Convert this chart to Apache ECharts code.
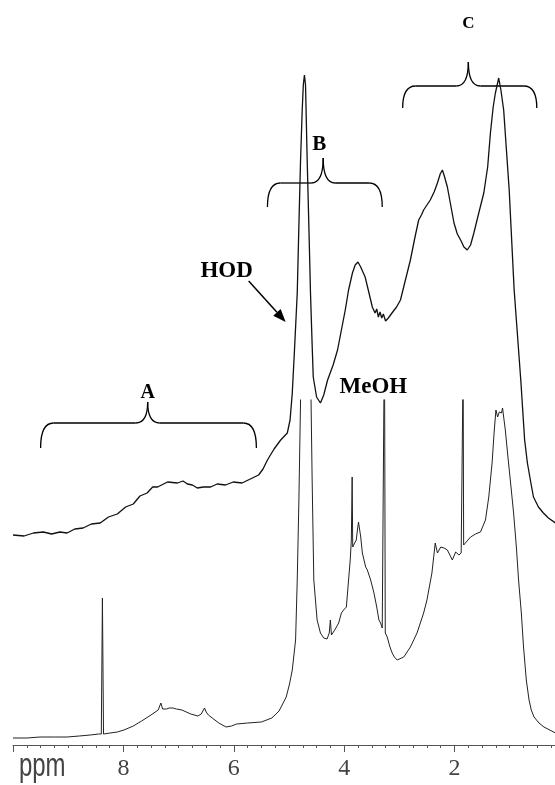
<!DOCTYPE html>
<html>
<head>
<meta charset="utf-8">
<script src="https://cdn.jsdelivr.net/npm/echarts@6/dist/echarts.min.js"></script>
<style>
  html, body { margin: 0; padding: 0; background: #fff; }
  #main { width: 555px; height: 785px; }
</style>
</head>
<body>
<div id="main"></div>
<script>
// Upper trace: chemical shift (ppm) and intensity (arbitrary units, offset trace)
const topPpm = [
  10.0, 9.8, 9.63, 9.45, 9.3, 9.15, 9.02, 8.88, 8.73, 8.58,
  8.42, 8.27, 8.11, 7.96, 7.82, 7.7, 7.57, 7.47, 7.38, 7.2,
  7.02, 6.92, 6.84, 6.75, 6.66, 6.55, 6.42, 6.30, 6.15, 6.01,
  5.85, 5.70, 5.55, 5.47, 5.39, 5.27, 5.15, 5.03, 4.98, 4.94,
  4.90, 4.85, 4.82, 4.79, 4.76, 4.74, 4.72, 4.70, 4.69, 4.67,
  4.64, 4.61, 4.58, 4.56, 4.50, 4.43, 4.37, 4.30, 4.20, 4.12,
  4.05, 3.98, 3.92, 3.85, 3.80, 3.75, 3.70, 3.62, 3.55, 3.49,
  3.44, 3.41, 3.38, 3.35, 3.32, 3.29, 3.25, 3.20, 3.12, 3.05,
  2.98, 2.89, 2.80, 2.72, 2.65, 2.60, 2.56, 2.50, 2.44, 2.37,
  2.31, 2.26, 2.22, 2.18, 2.13, 2.07, 2.01, 1.95, 1.89, 1.83,
  1.77, 1.71, 1.65, 1.57, 1.47, 1.40, 1.35, 1.30, 1.26, 1.20,
  1.16, 1.11, 1.01, 0.92, 0.80, 0.73, 0.68, 0.62, 0.57, 0.48,
  0.39, 0.30, 0.17
];
const topInt = [
  210, 209, 212, 213, 211, 213, 212, 216, 217, 221,
  222, 228, 231, 238, 241, 249, 252, 258, 258, 263,
  262, 264, 261, 260, 257, 258, 258, 261, 260, 263,
  262, 266, 270, 276, 285, 296, 305, 312, 325, 352,
  395, 452, 520, 585, 635, 660, 670, 660, 635, 585,
  520, 452, 400, 368, 348, 342, 350, 365, 380, 395,
  415, 435, 455, 472, 480, 483, 478, 468, 452, 438,
  432, 436, 428, 433, 427, 431, 424, 427, 433, 438,
  445, 465, 485, 507, 525, 530, 535, 540, 545, 553,
  562, 571, 575, 568, 558, 540, 522, 511, 505, 498,
  495, 500, 512, 530, 552, 578, 612, 638, 652, 667,
  655, 635, 555, 455, 365, 305, 282, 263, 248, 238,
  232, 227, 222
];

// Lower trace: chemical shift (ppm) and intensity (arbitrary units; tall peaks run off scale)
const lowerPpm = [
  10.0, 9.75, 9.51, 9.25, 9.02, 8.80, 8.60, 8.45, 8.40, 8.38,
  8.36, 8.24, 8.11, 7.99, 7.82, 7.67, 7.50, 7.37, 7.32, 7.29,
  7.22, 7.17, 7.10, 7.04, 6.94, 6.78, 6.65, 6.59, 6.53, 6.50,
  6.46, 6.39, 6.27, 6.14, 6.04, 5.95, 5.75, 5.50, 5.31, 5.18,
  5.05, 4.99, 4.94, 4.88, 4.85, 4.82, 4.79, 4.72, 4.60, 4.58,
  4.55, 4.49, 4.43, 4.37, 4.31, 4.27, 4.25, 4.23, 4.16, 4.10,
  4.05, 4.01, 3.96, 3.92, 3.89, 3.87, 3.855, 3.845, 3.81, 3.78,
  3.76, 3.74, 3.70, 3.67, 3.61, 3.58, 3.52, 3.46, 3.41, 3.37,
  3.34, 3.31, 3.285, 3.27, 3.255, 3.22, 3.17, 3.13, 3.09, 3.04,
  2.92, 2.80, 2.68, 2.56, 2.50, 2.41, 2.35, 2.31, 2.25, 2.19,
  2.13, 2.04, 1.98, 1.92, 1.88, 1.855, 1.845, 1.835, 1.80, 1.71,
  1.62, 1.53, 1.44, 1.38, 1.32, 1.28, 1.25, 1.22, 1.19, 1.15,
  1.13, 1.11, 1.08, 1.04, 0.99, 0.93, 0.88, 0.84, 0.79, 0.75,
  0.70, 0.65, 0.61, 0.56, 0.47, 0.38, 0.17
];
const lowerInt = [
  7, 7, 8, 8, 8, 9, 10, 11, 11, 147,
  11, 12, 13, 15, 19, 24, 30, 35, 42, 36,
  36, 37, 37, 36, 35, 31, 29, 31, 37, 33,
  30, 27, 22, 18, 19, 21, 22, 23, 27, 34,
  48, 61, 75, 105, 165, 245, 345, 700, 345, 265,
  165, 125, 112, 107, 106, 112, 125, 110, 116, 122,
  132, 135, 138, 165, 185, 205, 268, 198, 202, 205,
  215, 223, 208, 192, 178, 175, 165, 152, 138, 125,
  122, 117, 119, 420, 112, 108, 98, 92, 88, 85,
  88, 98, 112, 132, 145, 172, 202, 192, 198, 197,
  195, 185, 193, 190, 192, 190, 380, 200, 202, 208,
  211, 213, 225, 248, 282, 315, 335, 328, 333, 332,
  337, 328, 315, 292, 265, 232, 198, 165, 132, 98,
  65, 45, 35, 28, 22, 18, 12
];

// Axis ticks and labels
const majorTicks = [10, 8, 6, 4, 2];
const tickLabels = [8, 6, 4, 2];
const unitLabel = 'ppm';
const unitLabelPpm = 9.47;

// Region braces (ppm span, levels in the upper trace's intensity units)
const braceNames = ['A', 'B', 'C'];
const braceFrom = [9.50, 5.39, 2.94];
const braceTo = [5.59, 3.31, 0.51];
const braceMid = [7.56, 4.38, 1.75];
const braceBar = [322, 562, 659];
const braceEnd = [297, 538, 637];
const braceTip = [343, 587, 683];
const braceLabelPpm = [7.56, 4.45, 1.75];
const braceLabelInt = [352, 600, 721];
const braceFont = [20, 21, 17];

// Peak call-outs
const hodLabel = { text: 'HOD', ppm: 6.13, int: 474 };
const hodArrow = { fromPpm: 5.73, fromInt: 464, toPpm: 5.06, toInt: 423 };
const meohLabel = { text: 'MeOH', ppm: 3.47, int: 358 };

const X_MIN = 0.18, X_MAX = 10;
const minorTicks = [];
for (let v = 10; v > 0.2; v -= 0.25) minorTicks.push(+v.toFixed(2));

const chart = echarts.init(document.getElementById('main'), null, { renderer: 'canvas' });

const baseX = {
  type: 'value', inverse: true, min: X_MIN, max: X_MAX,
  splitLine: { show: false }
};

chart.setOption({
  animation: false,
  backgroundColor: '#fff',
  grid: [
    { left: 13, right: 0, top: 0, bottom: 40 },
    { left: 13, right: 0, top: 400, bottom: 40 }
  ],
  xAxis: [
    Object.assign({}, baseX, {
      gridIndex: 0,
      axisLine: { show: true, lineStyle: { color: '#555', width: 1 } },
      axisTick: { show: true, customValues: minorTicks, length: 3, lineStyle: { color: '#555', width: 1 } },
      axisLabel: { show: false }
    }),
    Object.assign({}, baseX, {
      gridIndex: 1,
      axisLine: { show: false },
      axisTick: { show: true, customValues: majorTicks, length: 7, lineStyle: { color: '#555', width: 1 } },
      axisLabel: {
        show: true, customValues: tickLabels, margin: 12,
        color: '#444', fontFamily: 'Liberation Sans Narrow', fontSize: 24,
        formatter: v => String(v)
      }
    })
  ],
  yAxis: [
    { type: 'value', gridIndex: 0, min: 0, max: 745, show: false },
    { type: 'value', gridIndex: 1, min: 0, max: 345, show: false }
  ],
  series: [
    {
      type: 'line', xAxisIndex: 0, yAxisIndex: 0, symbol: 'none', clip: true,
      data: topPpm.map((p, i) => [p, topInt[i]]),
      lineStyle: { color: '#111', width: 1.3 }
    },
    {
      type: 'line', xAxisIndex: 1, yAxisIndex: 1, symbol: 'none', clip: true,
      data: lowerPpm.map((p, i) => [p, lowerInt[i]]),
      lineStyle: { color: '#222', width: 1 }
    }
  ]
});

const px = (p, v) => chart.convertToPixel({ gridIndex: 0 }, [p, v]);
const ink = '#000';
const labelFont = size => 'bold ' + size + 'px "Liberation Serif", "Times New Roman", serif';
const elements = [];

// Curly braces over the spectral regions
braceNames.forEach((name, i) => {
  const a = px(braceFrom[i], braceBar[i]);
  const b = px(braceTo[i], braceBar[i]);
  const m = px(braceMid[i], braceTip[i]);
  const yEnd = px(braceFrom[i], braceEnd[i])[1];
  const x1 = Math.min(a[0], b[0]), x2 = Math.max(a[0], b[0]);
  const yBar = a[1], xm = m[0], yTip = m[1];
  const r = 13, r2 = 12;
  const st = { stroke: ink, lineWidth: 1.3, fill: null };
  elements.push(
    { type: 'bezierCurve', shape: { x1: x1, y1: yEnd, cpx1: x1, cpy1: yBar, x2: x1 + r, y2: yBar }, style: st },
    { type: 'line', shape: { x1: x1 + r, y1: yBar, x2: xm - r2, y2: yBar }, style: st },
    { type: 'bezierCurve', shape: { x1: xm - r2, y1: yBar, cpx1: xm, cpy1: yBar, x2: xm, y2: yTip }, style: st },
    { type: 'bezierCurve', shape: { x1: xm, y1: yTip, cpx1: xm, cpy1: yBar, x2: xm + r2, y2: yBar }, style: st },
    { type: 'line', shape: { x1: xm + r2, y1: yBar, x2: x2 - r, y2: yBar }, style: st },
    { type: 'bezierCurve', shape: { x1: x2 - r, y1: yBar, cpx1: x2, cpy1: yBar, x2: x2, y2: yEnd }, style: st }
  );
  const lp = px(braceLabelPpm[i], braceLabelInt[i]);
  elements.push({
    type: 'text', x: lp[0], y: lp[1],
    style: { text: name, font: labelFont(braceFont[i]), fill: ink, align: 'center', verticalAlign: 'middle' }
  });
});

// HOD and MeOH call-outs
[hodLabel, meohLabel].forEach(l => {
  const p = px(l.ppm, l.int);
  elements.push({
    type: 'text', x: p[0], y: p[1],
    style: { text: l.text, font: labelFont(23), fill: ink, align: 'center', verticalAlign: 'middle' }
  });
});

(function () {
  const s = px(hodArrow.fromPpm, hodArrow.fromInt);
  const e = px(hodArrow.toPpm, hodArrow.toInt);
  const dx = e[0] - s[0], dy = e[1] - s[1];
  const len = Math.hypot(dx, dy), ux = dx / len, uy = dy / len;
  const headL = 13, headW = 5;
  const bx = e[0] - ux * headL, by = e[1] - uy * headL;
  elements.push(
    { type: 'line', shape: { x1: s[0], y1: s[1], x2: bx, y2: by }, style: { stroke: ink, lineWidth: 1.5 } },
    { type: 'polygon', shape: { points: [[e[0], e[1]], [bx - uy * headW, by + ux * headW], [bx + uy * headW, by - ux * headW]] }, style: { fill: ink } }
  );
})();

// Unit label on the shift axis (stretched vertically to match the digit height)
(function () {
  const p = chart.convertToPixel({ gridIndex: 1 }, [unitLabelPpm, 0]);
  elements.push({
    type: 'text', x: p[0], y: 767, scaleY: 1.35,
    style: { text: unitLabel, font: '24px "Liberation Sans Narrow", sans-serif', fill: '#444', align: 'center', verticalAlign: 'middle' }
  });
})();

chart.setOption({ graphic: { elements: elements } });
</script>
</body>
</html>
